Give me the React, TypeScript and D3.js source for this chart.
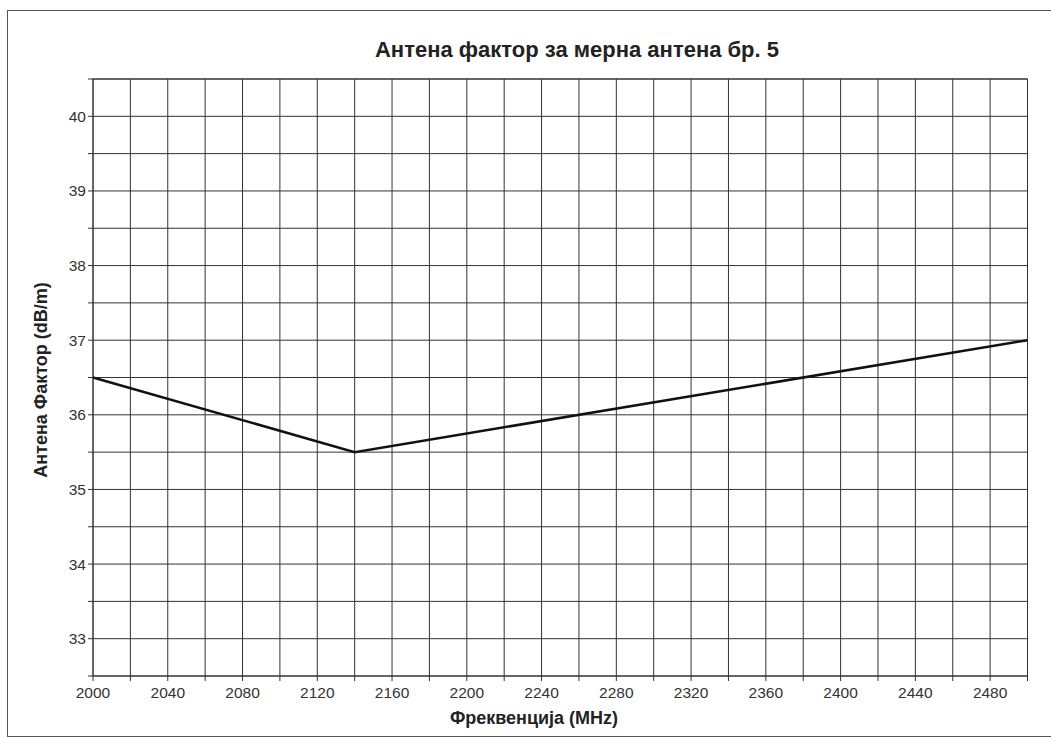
import React from "react";
import * as d3 from "d3";

const freqs = [2000, 2140, 2500];
const factors = [36.5, 35.5, 37.0];
const xTickLabels = [2000, 2040, 2080, 2120, 2160, 2200, 2240, 2280, 2320, 2360, 2400, 2440, 2480];
const yTickLabels = [33, 34, 35, 36, 37, 38, 39, 40];
const title = "Антена фактор за мерна антена бр. 5";
const xTitle = "Фреквенција (MHz)";
const yTitle = "Антена Фактор (dB/m)";

export default function App() {
  const W = 1051, H = 738;
  const left = 93, right = 1027.5, top = 79, bottom = 676;
  const x = d3.scaleLinear().domain([2000, 2500]).range([left, right]);
  const y = d3.scaleLinear().domain([32.5, 40.5]).range([bottom, top]);
  const xGrid = d3.range(2000, 2500.1, 20);
  const yGrid = d3.range(32.5, 40.51, 0.5);
  const pts = freqs.map((f, i) => [f, factors[i]] as [number, number]);
  const line = d3.line<[number, number]>().x(d => x(d[0])).y(d => y(d[1]));
  const font = "'Liberation Sans', Arial, sans-serif";
  return (
    <svg width={W} height={H} style={{ position: "absolute", left: 0, top: 0, background: "#fff" }} fontFamily={font}>
      <rect x={7.5} y={10.5} width={1100} height={726} fill="#fff" stroke="#555" strokeWidth={1} />
      {xGrid.map(v => (
        <line key={"xg" + v} x1={x(v)} x2={x(v)} y1={top} y2={bottom + 5} stroke="#333" strokeWidth={1} />
      ))}
      {yGrid.map(v => (
        <line key={"yg" + v} x1={left - 5} x2={right} y1={y(v)} y2={y(v)} stroke="#333" strokeWidth={1} />
      ))}
      <rect x={left} y={top} width={right - left} height={bottom - top} fill="none" stroke="#333" strokeWidth={1} />
      {xTickLabels.map(v => (
        <text key={"xl" + v} x={x(v)} y={bottom + 22} textAnchor="middle" fontSize={15.5} fill="#333">{v}</text>
      ))}
      {yTickLabels.map(v => (
        <text key={"yl" + v} x={left - 7} y={y(v) + 5.5} textAnchor="end" fontSize={15.5} fill="#333">{v}</text>
      ))}
      <path d={line(pts) || ""} fill="none" stroke="#111" strokeWidth={2.5} />
      <text x={577} y={57} textAnchor="middle" fontSize={22} fontWeight="bold" fill="#222">{title}</text>
      <text x={534} y={724} textAnchor="middle" fontSize={18} fontWeight="bold" fill="#222">{xTitle}</text>
      <text transform={`translate(47,380) rotate(-90)`} textAnchor="middle" fontSize={18} fontWeight="bold" fill="#222">{yTitle}</text>
    </svg>
  );
}
